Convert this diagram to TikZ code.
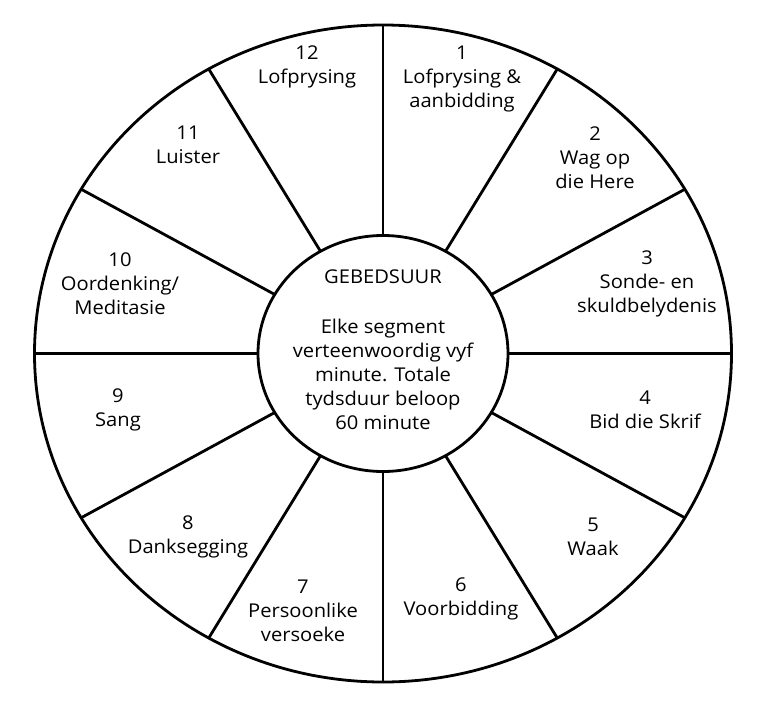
\documentclass[tikz,border=0pt]{standalone}
\usepackage{fontspec}
\setmainfont{Open Sans}[FakeStretch=1.06]

\begin{document}
\begin{tikzpicture}[x=1pt, y=-1pt,
  seg/.style={align=center, inner sep=0pt, font=\fontsize{19}{24}\selectfont},
  ring/.style={line width=2.8pt}]
\useasboundingbox[fill=white] (0,0) rectangle (768,709);
\coordinate (c) at (383,353.5);
%spokes
\foreach \a in {0,30,...,330}
  \draw[ring] ({383+125*cos(\a)},{353.5-118*sin(\a)}) -- ({383+348.5*cos(\a)},{353.5-328.5*sin(\a)});
\draw[ring] (c) ellipse [x radius=348.5pt, y radius=328.5pt];
\draw[ring, fill=white] (c) ellipse [x radius=125pt, y radius=118pt];
\node[seg] (hub) at (383,350) {GEBEDSUUR\\[26pt]Elke segment\\verteenwoordig vyf\\minute. Totale\\tydsduur beloop\\60 minute};
%segments
\node[seg] (s1) at (462,79) {1\\Lofprysing \&\\aanbidding};
\node[seg] (s2) at (595,158) {2\\Wag op\\die Here};
\node[seg] (s3) at (647,284) {3\\Sonde- en\\skuldbelydenis};
\node[seg] (s4) at (645,410) {4\\Bid die Skrif};
\node[seg] (s5) at (593,537) {5\\Waak};
\node[seg] (s6) at (461,599) {6\\Voorbidding};
\node[seg] (s7) at (303,611) {7\\Persoonlike\\versoeke};
\node[seg] (s8) at (188,537) {8\\Danksegging};
\node[seg] (s9) at (118,410) {9\\Sang};
\node[seg] (s10) at (120,284) {10\\Oordenking/\\Meditasie};
\node[seg] (s11) at (188,145) {11\\Luister};
\node[seg] (s12) at (307,67) {12\\Lofprysing};
\end{tikzpicture}
\end{document}
